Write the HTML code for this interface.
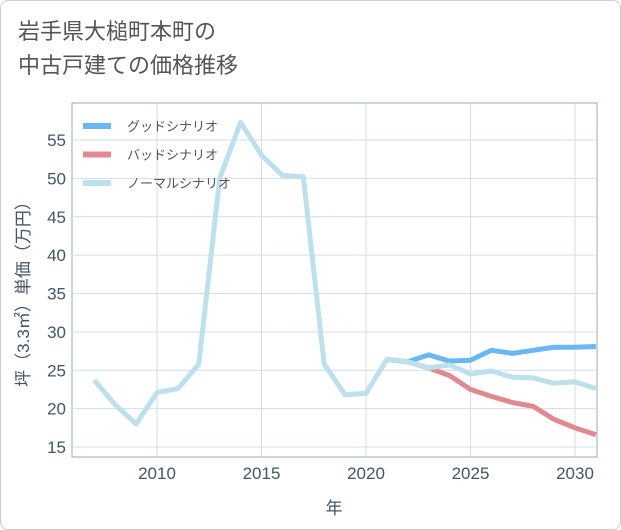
<!DOCTYPE html>
<html><head><meta charset="utf-8"><style>
body{margin:0;background:#fff;}
#wrap{position:relative;width:619px;height:528px;border:1px solid #ccc;border-radius:8px;background:#fff;overflow:hidden;}
.t{font-family:"Liberation Sans","Noto Sans CJK JP",sans-serif;}
</style></head><body>
<div id="wrap">
<div class="t" style="position:absolute;left:17px;top:14px;font-size:22px;line-height:34px;color:#555;">岩手県大槌町本町の<br>中古戸建ての価格推移</div>
<svg id="svg" width="621" height="530" style="position:absolute;left:-1px;top:-1px"></svg>
</div>
<script>
const years=[2007,2008,2009,2010,2011,2012,2013,2014,2015,2016,2017,2018,2019,2020,2021,2022,2023,2024,2025,2026,2027,2028,2029,2030,2031];
const normal=[23.7,20.5,18,22.1,22.6,25.8,50,57.3,53,50.4,50.2,25.8,21.8,22,26.4,26.1,25.3,25.7,24.5,24.9,24.1,24,23.3,23.5,22.6];
const goodYears=[2021,2022,2023,2024,2025,2026,2027,2028,2029,2030,2031];
const good=[26.4,26.1,27,26.2,26.3,27.6,27.2,27.6,28,28,28.1];
const bad=[26.4,26.1,25.3,24.3,22.5,21.6,20.8,20.3,18.6,17.5,16.6];
const xTicks=[2010,2015,2020,2025,2030];
const yTicks=[15,20,25,30,35,40,45,50,55];
const L=72,R=597,T=103,B=457;
const xs=v=>157+(v-2010)*20.9;
const ys=v=>447-(v-15)*7.675;
const svg=document.getElementById('svg');const NS='http://www.w3.org/2000/svg';
function mk(tag,a,name){const e=document.createElementNS(NS,tag);for(const k in a)e.setAttribute(k,a[k]);


svg.appendChild(e);return e;}
mk('rect',{x:L,y:T,width:R-L,height:B-T,fill:'#fff',stroke:'#9aabbb','stroke-width':1},'plot-area');
yTicks.forEach(v=>{mk('line',{x1:L,x2:R,y1:ys(v),y2:ys(v),stroke:'#d3dde6'},'y-gridline');
const t=mk('text',{x:L-6,y:ys(v)+6,'text-anchor':'end','font-size':17,fill:'#445566',class:'t'},'y-tick-label');t.textContent=v;});
xTicks.forEach(v=>{mk('line',{x1:xs(v),x2:xs(v),y1:T,y2:B,stroke:'#d3dde6'},'x-gridline');
const t=mk('text',{x:xs(v),y:B+22,'text-anchor':'middle','font-size':17,fill:'#445566',class:'t'},'x-tick-label');t.textContent=v;});
const xt=mk('text',{x:334,y:514,'text-anchor':'middle','font-size':17,fill:'#445566',class:'t'},'x-axis-title');xt.textContent='年';
const yt=mk('text',{x:0,y:0,'text-anchor':'middle','font-size':17,fill:'#445566',class:'t',transform:'translate(29,290) rotate(-90)'},'y-axis-title');yt.textContent='坪（3.3㎡）単価（万円）';
function line(xv,yv,col,name){mk('polyline',{points:xv.map((x,i)=>xs(x)+','+ys(yv[i])).join(' '),fill:'none',stroke:col,'stroke-width':5,'stroke-linejoin':'round'},name);}
line(goodYears,bad,'#e08a90','bad-scenario-line');
line(goodYears,good,'#6bb8f0','good-scenario-line');
line(years,normal,'#bde0ec','normal-scenario-line');
[['グッドシナリオ','#6bb8f0'],['バッドシナリオ','#e08a90'],['ノーマルシナリオ','#bde0ec']].forEach((d,i)=>{
const y=126+i*28.5;mk('line',{x1:83,x2:111,y1:y,y2:y,stroke:d[1],'stroke-width':6},'legend-swatch');
const t=mk('text',{x:127,y:y+5,'font-size':13,fill:'#555',class:'t'},'legend-entry');t.textContent=d[0];});
</script>
</body></html>
